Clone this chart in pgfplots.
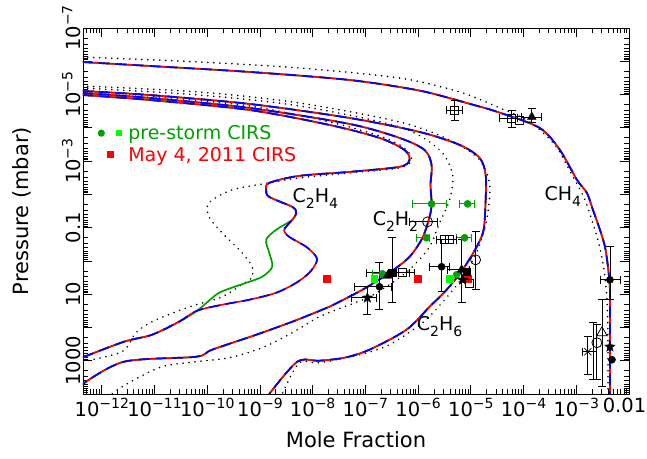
\documentclass[border=0pt]{standalone}
\usepackage{pgfplots}
\pgfplotsset{compat=1.18}
\usepackage{pgfplotstable}
\usepackage{fontspec}
\setmainfont{DejaVu Sans}
\definecolor{dgreen}{RGB}{0,160,0}
\definecolor{lgreen}{RGB}{0,255,0}
\newcommand{\tenm}[1]{10\raisebox{0.42em}{\fontsize{14}{14}\selectfont −#1}}
\newcommand{\sub}[1]{\raisebox{-0.32em}{\fontsize{14}{14}\selectfont #1}}
\pgfdeclareplotmark{fstar}{%
  \pgfpathmoveto{\pgfpointpolar{90}{\pgfplotmarksize}}%
  \pgfpathlineto{\pgfpointpolar{126}{0.42\pgfplotmarksize}}%
  \pgfpathlineto{\pgfpointpolar{162}{\pgfplotmarksize}}%
  \pgfpathlineto{\pgfpointpolar{198}{0.42\pgfplotmarksize}}%
  \pgfpathlineto{\pgfpointpolar{234}{\pgfplotmarksize}}%
  \pgfpathlineto{\pgfpointpolar{270}{0.42\pgfplotmarksize}}%
  \pgfpathlineto{\pgfpointpolar{306}{\pgfplotmarksize}}%
  \pgfpathlineto{\pgfpointpolar{342}{0.42\pgfplotmarksize}}%
  \pgfpathlineto{\pgfpointpolar{18}{\pgfplotmarksize}}%
  \pgfpathlineto{\pgfpointpolar{54}{0.42\pgfplotmarksize}}%
  \pgfpathclose\pgfusepathqfillstroke}

\pgfplotstableread{
x y
4.17e-13 1.05e-6
7.83e-12 1.38e-6
6.24e-10 2.09e-6
4.97e-8 3.65e-6
1.06e-6 7.60e-6
9.48e-6 1.90e-5
3.53e-5 3.50e-5
2.03e-4 1.01e-4
4.88e-4 4.61e-4
1.03e-3 3.67e-3
1.59e-3 9.02e-3
2.07e-3 2.92e-2
2.81e-3 0.116
3.50e-3 0.377
3.99e-3 1.50
4.35e-3 7.38
4.35e-3 50
4.35e-3 1e4
}\chfour
\pgfplotstableread{
x y
4.17e-13 7.43e-7
6.98e-11 1.05e-6
5.56e-9 1.59e-6
4.43e-7 3.18e-6
6.12e-6 8.36e-6
3.53e-5 2.52e-5
1.31e-4 6.65e-5
3.92e-4 3.26e-4
8.24e-4 2.59e-3
1.46e-3 1.46e-2
2.57e-3 0.232
3.35e-3 1.85
3.82e-3 14.7
3.99e-3 200
3.99e-3 1e4
}\chfourdot
\pgfplotstableread{
x y
4.17e-13 7.80e-6
7.83e-12 1.03e-5
6.24e-10 1.91e-5
4.97e-8 5.05e-5
1.06e-6 1.33e-4
6.12e-6 3.26e-4
1.47e-5 8.02e-4
1.91e-5 2.59e-3
1.91e-5 1.46e-2
1.75e-5 0.116
1.29e-5 0.377
6.98e-6 1.85
3.47e-6 7.38
1.65e-6 23.9
6.01e-7 117
1.19e-7 468
3.99e-8 813
1.33e-8 1000
5.10e-9 1072
1.50e-9 1e4
}\csix
\pgfplotstableread{
x y
4.17e-13 5.52e-6
6.98e-11 8.36e-6
5.56e-9 1.79e-5
4.43e-7 6.65e-5
3.95e-6 2.31e-4
1.47e-5 9.2e-4
2.28e-5 5.19e-3
2.0e-5 5.84e-2
1.35e-5 0.465
7.62e-6 2.61
3.18e-6 14.7
1.21e-6 72.3
2.86e-7 331
7.69e-8 661
1.33e-8 1148
5.56e-9 1148
2.64e-9 1e4
}\csixdot
\pgfplotstableread{
x y
4.17e-13 8.95e-6
7.83e-12 1.26e-5
6.24e-10 2.52e-5
4.97e-8 7.64e-5
4.43e-7 2.01e-4
1.32e-6 4.61e-4
1.80e-6 1.30e-3
1.72e-6 5.19e-3
1.80e-6 1.93e-2
1.65e-6 4.74e-2
1.21e-6 0.202
6.87e-7 0.753
2.86e-7 2.28
8.77e-8 7.38
2.07e-8 23.9
1.22e-8 33.8
4.09e-9 67.4
8.47e-10 166
1.23e-10 468
6.12e-11 759
2.62e-12 1072
4.17e-13 5260
}\ctwo
\pgfplotstableread{
x y
4.17e-13 6.34e-6
6.98e-11 1.03e-5
5.56e-9 2.20e-5
4.43e-7 9.4e-5
2.55e-6 4.61e-4
4.51e-6 2.59e-3
3.95e-6 1.46e-2
2.55e-6 7.18e-2
1.65e-6 0.377
7.83e-7 1.50
3.88e-7 3.70
1.19e-7 12.0
2.81e-8 29.4
1.22e-8 51.2
4.09e-9 144
1.10e-9 407
2.60e-10 813
6.12e-11 1072
1.38e-11 1514
3.26e-12 4581
1.55e-12 1e4
}\ctwodot
\pgfplotstableread{
x y
4.17e-13 1.03e-5
7.83e-12 1.45e-5
6.24e-10 2.90e-5
2.07e-8 8.18e-5
1.85e-7 2.01e-4
5.51e-7 4.61e-4
6.87e-7 9.2e-4
4.43e-7 1.49e-3
4.97e-8 2.11e-3
5.56e-9 2.78e-3
1.50e-9 4.52e-3
1.31e-9 7.33e-3
1.50e-9 1.19e-2
4.09e-9 2.37e-2
4.88e-9 3.59e-2
4.09e-9 5.84e-2
2.88e-9 0.116
3.59e-9 0.189
7.55e-9 0.377
1.17e-8 0.753
1.17e-8 1.14
8.61e-9 2.28
4.88e-9 4.55
2.03e-9 9.08
6.24e-10 14.7
1.91e-10 20.8
6.40e-11 31.5
2.91e-11 67.4
8.93e-12 166
2.62e-12 269
4.17e-13 813
}\cfour
\pgfplotstableread{
x y
4.17e-13 1.03e-5
7.83e-12 1.45e-5
6.24e-10 2.90e-5
2.07e-8 8.18e-5
1.85e-7 2.01e-4
5.51e-7 4.61e-4
6.87e-7 9.2e-4
4.43e-7 1.49e-3
4.97e-8 2.11e-3
5.56e-9 2.78e-3
1.50e-9 4.52e-3
1.31e-9 7.33e-3
1.50e-9 1.19e-2
4.09e-9 2.37e-2
4.88e-9 3.59e-2
4.09e-9 5.84e-2
2.03e-9 0.116
1.31e-9 0.232
1.50e-9 0.571
1.71e-9 1.50
1.10e-9 3.00
5.47e-10 4.55
2.28e-10 7.38
1.47e-10 10.4
6.40e-11 31.5
2.91e-11 67.4
8.93e-12 166
2.62e-12 269
4.17e-13 813
}\cfourgreen
\pgfplotstableread{
x y
4.17e-13 7.28e-6
7.83e-12 1.10e-5
6.24e-10 2.20e-5
2.07e-8 6.65e-5
1.85e-7 1.75e-4
5.51e-7 4.02e-4
7.5e-7 9.2e-4
4.43e-7 1.60e-3
4.97e-8 2.26e-3
5.56e-9 3.20e-3
1.50e-9 4.52e-3
2.96e-10 7.33e-3
1.08e-10 1.80e-2
1.08e-10 4.74e-2
1.91e-10 0.143
4.59e-10 0.571
7.11e-10 1.50
7.11e-10 3.00
6.24e-10 3.70
1.91e-10 12.0
6.12e-11 20.8
2.55e-11 33.8
8.93e-12 67.4
4.43e-12 144
2.40e-12 537
4.17e-13 1072
}\cfourdot
\pgfplotstableread{
x y
7.83e-7 1.93e-2
3.47e-6 1.93e-2
nan nan
6.12e-6 1.93e-2
1.18e-5 1.93e-2
nan nan
9.33e-7 0.202
1.65e-6 0.202
nan nan
5.37e-6 0.202
1.04e-5 0.202
nan nan
1.36e-7 2.44
2.62e-7 2.44
}\gbars
\pgfplotstableread{
x y
6.18e-8 6.0
3.12e-7 6.0
nan nan
1.04e-7 2.28
6.87e-7 2.28
nan nan
3.88e-7 2.28
8.55e-7 2.28
nan nan
5.42e-8 12.8
1.62e-7 12.8
nan nan
6.87e-7 6.7e-2
2.34e-6 6.7e-2
nan nan
2.24e-6 0.232
5.37e-6 0.232
nan nan
1.65e-6 1.50
3.95e-6 1.50
nan nan
3.62e-6 1.85
9.48e-6 1.85
nan nan
3.53e-5 5.05e-5
7.76e-5 5.05e-5
nan nan
9.24e-5 4.71e-5
2.22e-4 4.71e-5
nan nan
3.47e-6 2.90e-5
6.98e-6 2.90e-5
nan nan
2.81e-3 3.70
6.75e-3 3.70
nan nan
1.33e-3 537
2.46e-3 537
}\hbars
\pgfplotstableread{
x y
1.85e-7 1.14
1.85e-7 29.4
nan nan
3.26e-7 0.202
3.26e-7 18.1
nan nan
1.09e-7 6.0
1.09e-7 41.6
nan nan
2.79e-6 0.232
2.79e-6 8.47
nan nan
6.68e-6 0.232
6.68e-6 18.1
nan nan
1.23e-5 0.134
1.23e-5 7.38
nan nan
5.97e-5 2.90e-5
5.97e-5 9.4e-5
nan nan
1.43e-4 2.52e-5
1.43e-4 6.65e-5
nan nan
4.92e-6 1.45e-5
4.92e-6 5.79e-5
nan nan
4.35e-3 0.377
4.35e-3 14.7
nan nan
1.66e-3 190
1.66e-3 2630
nan nan
2.07e-3 72.3
2.07e-3 3724
nan nan
2.46e-3 80
2.46e-3 3724
nan nan
3.07e-3 14.7
3.07e-3 6039
}\vbars
\begin{document}
\begin{tikzpicture}
\begin{axis}[
  at={(0pt,0pt)}, anchor=south west,
  scale only axis, width=546pt, height=366pt,
  xmode=log, ymode=log, y dir=reverse,
  xmin=4.4e-13, xmax=1e-2, ymin=1e-7, ymax=1e4,
  xtick={1e-12,1e-11,1e-10,1e-9,1e-8,1e-7,1e-6,1e-5,1e-4,1e-3,1e-2},
  xticklabels={\tenm{12},\tenm{11},\tenm{10},\tenm{9},\tenm{8},\tenm{7},\tenm{6},\tenm{5},\tenm{4},\tenm{3},0.01\kern9pt},
  ytick={1e-7,1e-6,1e-5,1e-4,1e-3,1e-2,1e-1,1,10,100,1000,1e4},
  yticklabels={\tenm{7},,\tenm{5},,\tenm{3},,0.1,,10,,1000,},
  minor xtick={5e-13,6e-13,7e-13,8e-13,9e-13,
    2e-12,3e-12,4e-12,5e-12,6e-12,7e-12,8e-12,9e-12,
    2e-11,3e-11,4e-11,5e-11,6e-11,7e-11,8e-11,9e-11,
    2e-10,3e-10,4e-10,5e-10,6e-10,7e-10,8e-10,9e-10,
    2e-9,3e-9,4e-9,5e-9,6e-9,7e-9,8e-9,9e-9,
    2e-8,3e-8,4e-8,5e-8,6e-8,7e-8,8e-8,9e-8,
    2e-7,3e-7,4e-7,5e-7,6e-7,7e-7,8e-7,9e-7,
    2e-6,3e-6,4e-6,5e-6,6e-6,7e-6,8e-6,9e-6,
    2e-5,3e-5,4e-5,5e-5,6e-5,7e-5,8e-5,9e-5,
    2e-4,3e-4,4e-4,5e-4,6e-4,7e-4,8e-4,9e-4,
    2e-3,3e-3,4e-3,5e-3,6e-3,7e-3,8e-3,9e-3},
  minor ytick={2e-7,3e-7,4e-7,5e-7,6e-7,7e-7,8e-7,9e-7,
    2e-6,3e-6,4e-6,5e-6,6e-6,7e-6,8e-6,9e-6,
    2e-5,3e-5,4e-5,5e-5,6e-5,7e-5,8e-5,9e-5,
    2e-4,3e-4,4e-4,5e-4,6e-4,7e-4,8e-4,9e-4,
    2e-3,3e-3,4e-3,5e-3,6e-3,7e-3,8e-3,9e-3,
    0.02,0.03,0.04,0.05,0.06,0.07,0.08,0.09,
    0.2,0.3,0.4,0.5,0.6,0.7,0.8,0.9,
    2,3,4,5,6,7,8,9,
    20,30,40,50,60,70,80,90,
    200,300,400,500,600,700,800,900,
    2000,3000,4000,5000,6000,7000,8000,9000},
  tick align=inside, major tick length=9pt, minor tick length=5pt,
  every tick/.style={black, line width=0.7pt},
  axis line style={line width=0.8pt},
  tick label style={font=\fontsize{19.5}{24}\selectfont, inner sep=2pt},
  xticklabel style={yshift=-2pt},
  yticklabel style={rotate=90, anchor=south},
  xlabel={Mole Fraction}, ylabel={Pressure (mbar)},
  label style={font=\fontsize{21}{24}\selectfont},
  xlabel style={at={(axis description cs:0.5,-0.125)}, anchor=center},
  ylabel style={at={(axis description cs:-0.112,0.5)}, anchor=center},
  unbounded coords=jump,
  legend style={at={(axis description cs:0.024,0.74)}, anchor=north west, draw=none, fill=none,
     font=\fontsize{19}{22}\selectfont, row sep=2pt, inner sep=0pt},
  legend cell align=left,
]
\addlegendimage{legend image code/.code={\path[draw=none,fill=none] (0pt,-4pt) rectangle (30pt,4pt); \path[draw=none,fill=dgreen] (5pt,0pt) circle (3.6pt); \path[draw=none,fill=lgreen] (19.5pt,-3.3pt) rectangle (26pt,3.3pt);}}
\addlegendentry{\textcolor{dgreen}{pre-storm CIRS}}
\addlegendimage{legend image code/.code={\path[draw=none,fill=none] (0pt,-4pt) rectangle (30pt,4pt); \path[draw=none,fill=red] (10.5pt,-3.5pt) rectangle (17.5pt,3.5pt);}}
\addlegendentry{\textcolor{red}{May 4, 2011 CIRS}}
% dotted model
\addplot[black, line width=1.8pt, dash pattern=on 0.01pt off 6pt, line cap=round, smooth, tension=0.5] table {\chfourdot};
\addplot[black, line width=1.8pt, dash pattern=on 0.01pt off 6pt, line cap=round, smooth, tension=0.5] table {\csixdot};
\addplot[black, line width=1.8pt, dash pattern=on 0.01pt off 6pt, line cap=round, smooth, tension=0.5] table {\ctwodot};
\addplot[black, line width=1.8pt, dash pattern=on 0.01pt off 6pt, line cap=round, smooth, tension=0.5] table {\cfourdot};
% green model
\addplot[dgreen, line width=1.7pt, smooth, tension=0.5] table {\cfourgreen};
\addplot[dgreen, line width=1.7pt, smooth, tension=0.5] table {\ctwo};
\addplot[dgreen, line width=1.7pt, smooth, tension=0.5] table {\csix};
\addplot[dgreen, line width=1.7pt, smooth, tension=0.5] table {\chfour};
% red and blue models
\addplot[red, line width=1.7pt, smooth, tension=0.5] table {\chfour};
\addplot[blue, line width=1.7pt, smooth, tension=0.5, dash pattern=on 11pt off 6pt] table {\chfour};
\addplot[red, line width=1.7pt, smooth, tension=0.5] table {\csix};
\addplot[blue, line width=1.7pt, smooth, tension=0.5, dash pattern=on 11pt off 6pt] table {\csix};
\addplot[red, line width=1.7pt, smooth, tension=0.5] table {\ctwo};
\addplot[blue, line width=1.7pt, smooth, tension=0.5, dash pattern=on 11pt off 6pt] table {\ctwo};
\addplot[red, line width=1.7pt, smooth, tension=0.5] table {\cfour};
\addplot[blue, line width=1.7pt, smooth, tension=0.5, dash pattern=on 11pt off 6pt] table {\cfour};
% error bars
\addplot[dgreen, line width=0.8pt, mark=|, mark size=4pt] table {\gbars};
\addplot[black, line width=0.8pt, mark=|, mark size=4pt] table {\hbars};
\addplot[black, line width=0.8pt, mark=-, mark size=4pt] table {\vbars};
% CIRS points
\addplot[only marks, mark=*, mark size=3.6pt, dgreen] coordinates {(1.80e-6,1.93e-2) (8.69e-6,1.93e-2) (1.44e-6,0.202) (7.62e-6,0.202) (2.10e-7,2.44) (5.37e-6,2.61)};
\addplot[only marks, mark=square*, mark size=3.3pt, lgreen] coordinates {(1.48e-7,3.45) (3.95e-6,3.45)};
\addplot[only marks, mark=square*, mark size=3.5pt, red] coordinates {(1.82e-8,3.45) (9.75e-7,3.45) (8.69e-6,3.45)};
% other observations
\addplot[only marks, mark=*, mark size=3.6pt, black] coordinates {(1.85e-7,6.0) (2.79e-6,1.50) (4.35e-3,3.70) (4.75e-3,933)};
\addplot[only marks, mark=triangle*, mark size=5pt, black] coordinates {(2.62e-7,2.80) (6.68e-6,1.85) (1.43e-4,4.71e-5)};
\addplot[only marks, mark=square*, mark size=3.8pt, black] coordinates {(3.26e-7,2.28) (8.32e-6,2.12)};
\addplot[only marks, mark=fstar, mark size=5.5pt, black] coordinates {(1.09e-7,12.8) (6.98e-6,3.70) (4.35e-3,380)};
\addplot[only marks, mark=square, mark size=4pt, black, line width=0.8pt] coordinates {(5.05e-7,2.28) (3.18e-6,0.232) (3.95e-6,0.232) (9.48e-6,4.87) (5.97e-5,5.05e-5) (8.47e-5,5.79e-5) (4.92e-6,2.90e-5)};
\addplot[only marks, mark=o, mark size=5pt, black, line width=0.8pt] coordinates {(1.51e-6,6.7e-2) (1.23e-5,0.927) (2.46e-3,288)};
\addplot[only marks, mark=triangle, mark size=6pt, black, line width=0.8pt] coordinates {(3.07e-3,144)};
\addplot[only marks, mark=x, mark size=5pt, black, line width=0.8pt] coordinates {(1.66e-3,537)};
% species labels
\node[font=\fontsize{19}{22}\selectfont] at (axis cs:5.56e-4,1.19e-2) {CH\sub{4}};
\node[font=\fontsize{19}{22}\selectfont] at (axis cs:1.12e-8,1.36e-2) {C\sub{2}H\sub{4}};
\node[font=\fontsize{19}{22}\selectfont] at (axis cs:3.72e-7,6.7e-2) {C\sub{2}H\sub{2}};
\node[font=\fontsize{19}{22}\selectfont] at (axis cs:2.55e-6,95.3) {C\sub{2}H\sub{6}};
\end{axis}
\pgfresetboundingbox
\path[use as bounding box] (-83pt,-64pt) rectangle (564pt,394pt);
\end{tikzpicture}
\end{document}
